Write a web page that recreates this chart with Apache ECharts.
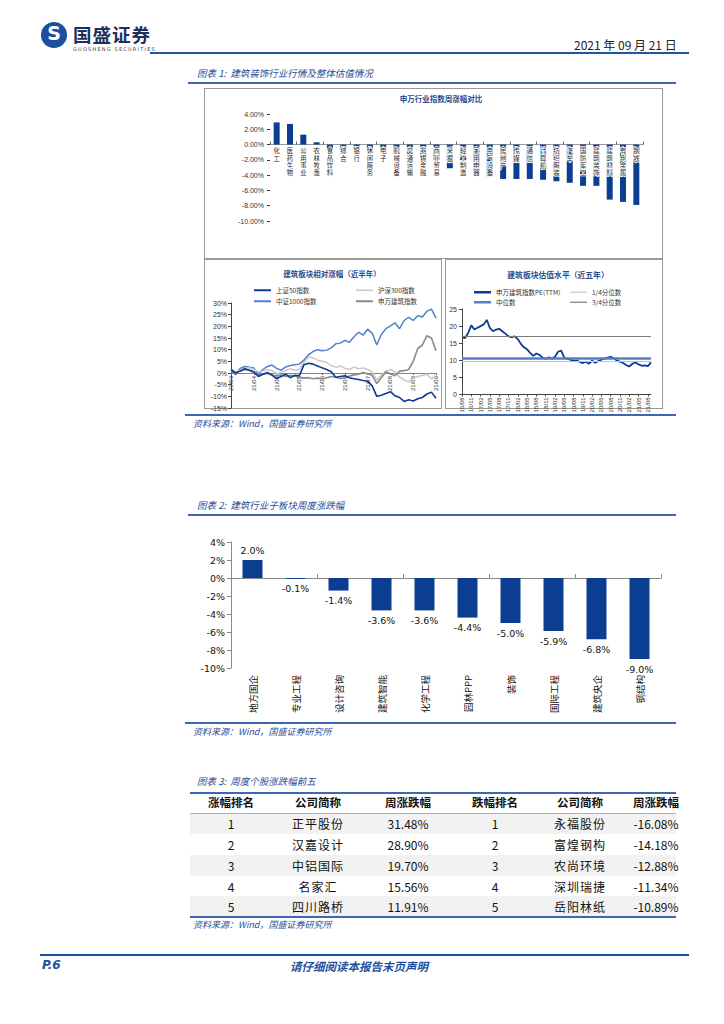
<!DOCTYPE html>
<html lang="zh-CN">
<head>
<meta charset="utf-8">
<title>建筑装饰行业周报 P.6</title>
<script src="https://cdn.jsdelivr.net/npm/echarts@6/dist/echarts.min.js"></script>
<style>
html,body{margin:0;padding:0;background:#fff;}
#page{position:relative;width:724px;height:1024px;overflow:hidden;font-family:"Noto Sans CJK SC","Noto Sans",sans-serif;}
.abs{position:absolute;white-space:nowrap;}
.cap{position:absolute;font-size:9.5px;font-style:italic;color:#2a4d96;white-space:nowrap;}
.rule{position:absolute;background:#3d68b0;}
.box{position:absolute;border:1px solid #9a9a9a;box-sizing:border-box;}
.cell{position:absolute;width:120px;text-align:center;font-size:12px;color:#111;line-height:21px;white-space:nowrap;}
.hd{font-weight:bold;font-size:11.5px;}
.stripe{position:absolute;left:190px;width:486px;height:21px;background:#f2f2f2;}
#chart{position:absolute;left:0;top:0;width:724px;height:1024px;}
</style>
</head>
<body>
<div id="page">
  <!-- header -->
  <div class="abs" style="left:41px;top:22px;width:26px;height:26px;border-radius:50%;background:#1d4f9f;"></div>
  <div class="abs" style="left:41px;top:22px;width:26px;height:26px;line-height:26px;text-align:center;color:#fff;font:bold 19px 'DejaVu Sans';">S</div>
  <div class="abs" style="left:73px;top:24px;font-size:18.5px;line-height:20px;font-weight:bold;color:#1c2f5e;letter-spacing:1px;">国盛证券</div>
  <div class="abs" style="left:73px;top:46px;font-size:5px;line-height:6px;color:#444;letter-spacing:1.2px;font-family:'DejaVu Sans';">GUOSHENG SECURITIES</div>
  <div class="abs" style="left:574px;top:36px;font-size:12px;color:#222;">2021 年 09 月 21 日</div>
  <div class="rule" style="left:150px;top:52px;width:539px;height:2px;background:#2453a0;"></div>

  <!-- figure 1 -->
  <div class="cap" style="left:197px;top:66px;">图表 1:&nbsp; 建筑装饰行业行情及整体估值情况</div>
  <div class="rule" style="left:188px;top:82px;width:488px;height:1.5px;"></div>
  <div class="box" style="left:204px;top:88px;width:459px;height:171px;"></div>
  <div class="box" style="left:204px;top:259px;width:238px;height:150px;"></div>
  <div class="box" style="left:445px;top:259px;width:218px;height:150px;"></div>
  <div class="rule" style="left:185px;top:414px;width:491px;height:2px;"></div>
  <div class="cap" style="left:193px;top:417px;font-size:9px;">资料来源：Wind，国盛证券研究所</div>

  <!-- figure 2 -->
  <div class="cap" style="left:197px;top:498px;">图表 2:&nbsp; 建筑行业子板块周度涨跌幅</div>
  <div class="rule" style="left:188px;top:514px;width:488px;height:1.5px;"></div>
  <div class="rule" style="left:185px;top:722px;width:491px;height:2px;"></div>
  <div class="cap" style="left:193px;top:725px;font-size:9px;">资料来源：Wind，国盛证券研究所</div>

  <!-- figure 3 -->
  <div class="cap" style="left:197px;top:774px;">图表 3:&nbsp; 周度个股涨跌幅前五</div>
  <div class="rule" style="left:190px;top:792px;width:486px;height:1.5px;"></div>
  <div id="table"></div>
  <div class="rule" style="left:190px;top:813px;width:486px;height:1px;background:#9bb3d8;"></div>
  <div class="rule" style="left:190px;top:916px;width:486px;height:1.5px;"></div>
  <div class="cap" style="left:193px;top:918px;font-size:9px;">资料来源：Wind，国盛证券研究所</div>

  <!-- footer -->
  <div class="rule" style="left:40px;top:954px;width:649px;height:2px;background:#1d4f9f;"></div>
  <div class="abs" style="left:42px;top:958px;font:italic bold 12px 'DejaVu Sans';color:#1d4f9f;">P.6</div>
  <div class="abs" style="left:290px;top:958px;font-size:11.5px;font-weight:bold;font-style:italic;color:#1d4f9f;">请仔细阅读本报告末页声明</div>

  <div id="chart"></div>
</div>
<script>
// ---------- data: 申万行业指数周涨幅对比 ----------
const industryNames = ['化工','医药生物','公用事业','农林牧渔','食品饮料','综合','银行','休闲服务','电子','机械设备','交通运输','非银金融','商业贸易','采掘','轻工制造','家用电器','电气设备','房地产','传媒','通信','计算机','纺织服装','汽车','国防军工','建筑装饰','建筑材料','有色金属','钢铁'];
const industryWeekly = [2.9,2.7,1.3,0.3,-0.7,-0.6,-0.6,-0.8,-0.9,-1.2,-1.5,-1.8,-2.0,-3.1,-3.2,-4.0,-4.2,-4.5,-4.5,-4.5,-4.6,-4.8,-5.0,-5.4,-5.4,-7.2,-7.5,-7.9];

// ---------- data: 建筑板块相对涨幅（近半年） ----------
const relDates = ['21/03/19','21/03/23','21/03/27','21/03/31','21/04/04','21/04/08','21/04/12','21/04/16','21/04/20','21/04/24','21/04/28','21/05/02','21/05/06','21/05/10','21/05/14','21/05/18','21/05/22','21/05/26','21/05/30','21/06/03','21/06/07','21/06/11','21/06/15','21/06/19','21/06/23','21/06/27','21/07/01','21/07/05','21/07/09','21/07/13','21/07/17','21/07/21','21/07/25','21/07/29','21/08/02','21/08/06','21/08/10','21/08/14','21/08/18','21/08/22','21/08/26','21/08/30','21/09/03','21/09/07','21/09/11','21/09/15'];
const sz50 = [1.5,0.0,0.8,1.8,1.2,0.5,-1.5,-0.5,0.2,-0.8,-2.5,-1.5,-0.5,-2.0,-1.0,-1.2,3.5,4.2,3.8,3.0,2.2,1.5,0.5,-1.8,-1.5,-1.2,-2.0,-2.5,-2.8,-3.2,-3.5,-5.5,-10.0,-9.5,-8.8,-8.0,-9.8,-10.5,-12.2,-11.5,-12.0,-11.0,-10.5,-9.0,-8.2,-10.8];
const hs300 = [1.5,0.5,1.2,2.0,2.2,1.6,0.5,0.8,1.5,1.0,-0.3,0.2,1.0,1.8,1.2,1.5,4.5,6.8,6.5,5.5,5.0,4.5,3.2,2.5,3.0,2.0,1.5,2.5,1.8,2.2,1.5,0.5,-3.0,-1.0,0.8,1.5,0.5,-1.8,-3.0,-3.8,-2.2,-1.5,-1.0,-0.5,-2.5,-1.0];
const zz1000 = [1.5,-0.8,2.0,2.8,2.5,2.2,-0.5,1.5,2.8,3.4,2.0,1.2,2.6,3.2,3.5,3.8,5.5,7.8,9.2,10.0,9.5,9.8,10.8,12.5,12.8,14.0,13.2,15.5,17.5,16.2,18.8,17.0,12.0,16.5,19.0,20.2,21.5,19.0,22.5,23.8,22.5,24.5,24.0,26.5,27.4,23.5];
const swBuild = [0.5,0.0,0.8,1.5,1.2,0.2,-0.8,-0.5,-0.2,-1.0,-1.2,-0.8,-1.5,-1.0,-1.3,-1.8,-2.2,-2.0,-2.5,-2.2,-2.6,-2.0,-1.5,-1.8,-2.4,-2.0,-1.3,-0.8,-0.5,0.2,-0.3,-1.0,-4.5,-2.0,0.5,-0.3,-1.2,0.8,1.0,1.5,5.0,10.5,12.0,16.0,15.0,9.5];

// ---------- data: 建筑板块估值水平（近五年） ----------
const peMonths = ['16/08','16/09','16/10','16/11','16/12','17/01','17/02','17/03','17/04','17/05','17/06','17/07','17/08','17/09','17/10','17/11','17/12','18/01','18/02','18/03','18/04','18/05','18/06','18/07','18/08','18/09','18/10','18/11','18/12','19/01','19/02','19/03','19/04','19/05','19/06','19/07','19/08','19/09','19/10','19/11','19/12','20/01','20/02','20/03','20/04','20/05','20/06','20/07','20/08','20/09','20/10','20/11','20/12','21/01','21/02','21/03','21/04','21/05','21/06','21/07','21/08','21/09'];
const pe = [16.8,16.5,18.0,20.2,19.0,19.5,20.0,20.5,21.8,19.5,18.5,19.0,19.2,18.5,17.8,17.0,16.8,17.0,16.2,14.8,13.8,13.2,12.2,11.3,12.0,11.6,10.8,10.4,10.9,10.5,11.0,12.5,12.8,10.8,10.4,10.2,9.8,10.0,9.5,9.2,9.6,9.0,9.9,9.3,9.8,10.2,10.5,10.8,11.0,10.6,9.9,9.6,9.2,8.6,8.2,9.0,9.4,8.8,8.4,8.5,8.3,9.4];
const peQ1 = 9.8, peMedian = 10.6, peQ3 = 17.0;

// ---------- data: 建筑行业子板块周度涨跌幅 ----------
const subSectors = ['地方国企','专业工程','设计咨询','建筑智能','化学工程','园林PPP','装饰','国际工程','建筑央企','钢结构'];
const subWeekly = [2.0,-0.1,-1.4,-3.6,-3.6,-4.4,-5.0,-5.9,-6.8,-9.0];

// ---------- data: 周度个股涨跌幅前五 ----------
const tableHeaders = ['涨幅排名','公司简称','周涨跌幅','跌幅排名','公司简称','周涨跌幅'];
const gainRank = ['1','2','3','4','5'];
const gainNames = ['正平股份','汉嘉设计','中铝国际','名家汇','四川路桥'];
const gainPct = ['31.48%','28.90%','19.70%','15.56%','11.91%'];
const lossRank = ['1','2','3','4','5'];
const lossNames = ['永福股份','富煌钢构','农尚环境','深圳瑞捷','岳阳林纸'];
const lossPct = ['-16.08%','-14.18%','-12.88%','-11.34%','-10.89%'];

// ---------- table ----------
(function(){
  const t = document.getElementById('table');
  const colX = [231,318,408,495,580,656];
  const rowY = [793,813,834,855,876,896];
  let html = '';
  [1,3,5].forEach(r => { html += '<div class="stripe" style="top:'+rowY[r]+'px"></div>'; });
  tableHeaders.forEach((h,i) => {
    html += '<div class="cell hd" style="left:'+(colX[i]-60)+'px;top:'+(rowY[0]-1)+'px">'+h+'</div>';
  });
  const cols = [gainRank,gainNames,gainPct,lossRank,lossNames,lossPct];
  for (let r=0;r<5;r++){
    cols.forEach((c,i)=>{
      const ls = (i===1||i===4) ? 'letter-spacing:1px;' : '';
      html += '<div class="cell" style="'+ls+'left:'+(colX[i]-60)+'px;top:'+rowY[r+1]+'px">'+c[r]+'</div>';
    });
  }
  t.innerHTML = html;
})();

// ---------- chart ----------
const chart = echarts.init(document.getElementById('chart'), null, {renderer:'svg'});
const NUM = 'DejaVu Sans';
const SM = 'Liberation Sans';
const blueDark = '#0b3d91';
const titleBlue = '#2b4c8c';

function smallLegend(name, left, top, h){
  return {data:[name], left:left, top:top, padding:0, itemGap:0, icon:'rect', itemWidth:17, itemHeight:h,
          selectedMode:false, textStyle:{fontSize:6.5, color:'#333', fontFamily:'Noto Sans CJK SC'}};
}

// grid geometry
const G0 = {left:270, top:114, width:373, height:107};   // industry bars, -10..4
const G1 = {left:231, top:303, width:205, height:105};   // relative returns, -15..30
const G2 = {left:462, top:309, width:189, height:85.5};  // PE, 0..25
const G3 = {left:231, top:542, width:430, height:126};   // sub-sectors, -10..4
// helper grid whose bottom edge sits on the 0% line (date labels at zero)
const G4 = {left:G1.left, top:G1.top, width:G1.width, height:G1.height*30/45};

const option = {
  animation:false,
  backgroundColor:'transparent',
  textStyle:{fontFamily:'Noto Sans CJK SC'},
  graphic:[
    {type:'text', x:441, y:98, style:{text:'申万行业指数周涨幅对比', fill:titleBlue, fontSize:7.5, fontWeight:'bold', fontFamily:'Noto Sans CJK SC', align:'center', verticalAlign:'middle', textAlign:'center', textVerticalAlign:'middle'}},
    {type:'text', x:332, y:273, style:{text:'建筑板块相对涨幅（近半年）', fill:titleBlue, fontSize:7.5, fontWeight:'bold', fontFamily:'Noto Sans CJK SC', align:'center', verticalAlign:'middle', textAlign:'center', textVerticalAlign:'middle'}},
    {type:'text', x:558, y:274, style:{text:'建筑板块估值水平（近五年）', fill:titleBlue, fontSize:7.8, fontWeight:'bold', fontFamily:'Noto Sans CJK SC', align:'center', verticalAlign:'middle', textAlign:'center', textVerticalAlign:'middle'}}
  ],
  legend:[
    smallLegend('上证50指数',254,287,2),
    smallLegend('沪深300指数',356,287,1.5),
    smallLegend('中证1000指数',254,298,2),
    smallLegend('申万建筑指数',356,298,2),
    smallLegend('申万建筑指数PE(TTM)',474,289,2.5),
    smallLegend('1/4分位数',570,289,1.2),
    smallLegend('中位数',474,299,2.5),
    smallLegend('3/4分位数',570,299,1.2)
  ],
  grid:[G0,G1,G2,G3,G4],
  xAxis:[
    // 0: industry zero line
    {gridIndex:0, type:'category', data:industryNames,
     axisLine:{onZero:true, lineStyle:{color:'#9a9a9a', width:1}},
     axisTick:{show:true, inside:true, interval:1, length:3, lineStyle:{color:'#666'}},
     axisLabel:{show:false}},
    // 1: relative-return zero line
    {gridIndex:1, type:'category', data:relDates, boundaryGap:false,
     axisLine:{onZero:true, lineStyle:{color:'#888'}},
     axisTick:{show:true, interval:4, length:2, lineStyle:{color:'#666'}},
     axisLabel:{show:false}},
    // 2: PE
    {gridIndex:2, type:'category', data:peMonths, boundaryGap:false,
     axisLine:{lineStyle:{color:'#444'}},
     axisTick:{show:true, interval:2, length:2, lineStyle:{color:'#444'}},
     axisLabel:{interval:2, rotate:90, fontSize:6, color:'#333', margin:3, fontFamily:SM}},
    // 3: sub-sector labels at bottom
    {gridIndex:3, type:'category', data:subSectors, position:'bottom',
     axisLine:{show:false, onZero:false}, axisTick:{show:false},
     axisLabel:{interval:0, rotate:90, fontSize:9.5, color:'#111', margin:7}},
    // 4: sub-sector zero line
    {gridIndex:3, type:'category', data:subSectors, position:'bottom',
     axisLine:{show:true, onZero:true, lineStyle:{color:'#8a8a8a'}},
     axisTick:{show:true, inside:true, length:4, lineStyle:{color:'#8a8a8a'}},
     axisLabel:{show:false}},
    // 5: date labels hanging from the zero line
    {gridIndex:4, type:'category', data:relDates, boundaryGap:false, position:'bottom',
     axisLine:{show:false}, axisTick:{show:false},
     axisLabel:{interval:4, rotate:90, fontSize:6, color:'#333', margin:3, fontFamily:SM, formatter:v=>v.slice(0,5)}}
  ],
  yAxis:[
    {gridIndex:0, type:'value', min:-10, max:4, interval:2,
     axisLine:{show:false}, axisTick:{show:true, length:3, lineStyle:{color:'#333'}},
     splitLine:{show:false},
     axisLabel:{fontSize:7, color:'#333', margin:6, fontFamily:SM, formatter:v=>v.toFixed(2)+'%'}},
    {gridIndex:1, type:'value', min:-15, max:30, interval:5,
     axisLine:{show:true, lineStyle:{color:'#444'}}, axisTick:{show:true, length:3, lineStyle:{color:'#444'}},
     splitLine:{show:false},
     axisLabel:{fontSize:7, color:'#333', margin:4, fontFamily:SM, formatter:'{value}%'}},
    {gridIndex:2, type:'value', min:0, max:25, interval:5,
     axisLine:{show:true, lineStyle:{color:'#444'}}, axisTick:{show:true, length:3, lineStyle:{color:'#444'}},
     splitLine:{show:false},
     axisLabel:{fontSize:7, color:'#333', margin:5, fontFamily:SM}},
    {gridIndex:3, type:'value', min:-10, max:4, interval:2,
     axisLine:{show:true, lineStyle:{color:'#8a8a8a'}}, axisTick:{show:true, length:4, lineStyle:{color:'#8a8a8a'}},
     splitLine:{show:false},
     axisLabel:{fontSize:9.5, color:'#111', margin:6, fontFamily:NUM, formatter:'{value}%'}},
    {gridIndex:4, type:'value', min:0, max:1, show:false}
  ],
  series:[
    {name:'申万行业周涨幅', type:'bar', xAxisIndex:0, yAxisIndex:0, data:industryWeekly, barWidth:6,
     itemStyle:{color:blueDark}},
    // industry names, one character per row, hanging from the 0% line (over the bars, with a white halo)
    {name:'行业名称', type:'custom', xAxisIndex:0, yAxisIndex:0, silent:true, z:5,
     data:industryNames.map(n => [n, 0]),
     renderItem:(params, api) => {
       const p = api.coord([api.value(0), 0]);
       const chars = industryNames[params.dataIndex].split('');
       return {type:'group', children: chars.map((c, k) => ({
         type:'text', x:p[0], y:p[1] + 3 + k * 7.3, z2:10,
         style:{text:c, fill:'#2a2a2a', stroke:'#ffffff', lineWidth:1.6,
                fontSize:6.3, fontFamily:'Noto Sans CJK SC',
                align:'center', verticalAlign:'top', textAlign:'center', textVerticalAlign:'top'}
       }))};
     }},

    {name:'中证1000指数', type:'line', xAxisIndex:1, yAxisIndex:1, data:zz1000, symbol:'none',
     lineStyle:{color:'#4f82c9', width:1.5}, itemStyle:{color:'#4f82c9'}},
    {name:'沪深300指数', type:'line', xAxisIndex:1, yAxisIndex:1, data:hs300, symbol:'none',
     lineStyle:{color:'#c8c8c8', width:1.5}, itemStyle:{color:'#c8c8c8'}},
    {name:'申万建筑指数', type:'line', xAxisIndex:1, yAxisIndex:1, data:swBuild, symbol:'none',
     lineStyle:{color:'#8a8a8a', width:1.6}, itemStyle:{color:'#8a8a8a'}},
    {name:'上证50指数', type:'line', xAxisIndex:1, yAxisIndex:1, data:sz50, symbol:'none',
     lineStyle:{color:'#0d3a94', width:1.6}, itemStyle:{color:'#0d3a94'}},

    {name:'3/4分位数', type:'line', xAxisIndex:2, yAxisIndex:2, data:[], symbol:'none',
     lineStyle:{color:'#7a7a7a', width:1}, itemStyle:{color:'#7a7a7a'}},
    {name:'1/4分位数', type:'line', xAxisIndex:2, yAxisIndex:2, data:[], symbol:'none',
     lineStyle:{color:'#c4c4c4', width:1}, itemStyle:{color:'#c4c4c4'}},
    {name:'中位数', type:'line', xAxisIndex:2, yAxisIndex:2, data:[], symbol:'none',
     lineStyle:{color:'#4f82c9', width:2.5}, itemStyle:{color:'#4f82c9'}},
    {name:'申万建筑指数PE(TTM)', type:'line', xAxisIndex:2, yAxisIndex:2, data:pe, symbol:'none',
     lineStyle:{color:'#0d3a94', width:1.8}, itemStyle:{color:'#0d3a94'},
     markLine:{silent:true, symbol:['none','none'], label:{show:false}, animation:false,
       data:[
         {yAxis:peQ3, lineStyle:{color:'#7a7a7a', width:1, type:'solid'}},
         {yAxis:peQ1, lineStyle:{color:'#c4c4c4', width:1, type:'solid'}},
         {yAxis:peMedian, lineStyle:{color:'#4f82c9', width:2.5, type:'solid'}}
       ]}},

    {name:'子板块周涨跌幅', type:'bar', xAxisIndex:3, yAxisIndex:3, barWidth:20,
     itemStyle:{color:blueDark},
     data:subWeekly.map(v=>({value:v, label:{position: v>=0 ? 'top' : 'bottom'}})),
     label:{show:true, distance:5, fontSize:9.5, color:'#111', fontFamily:NUM,
            formatter:p=>p.value.toFixed(1)+'%'}}
  ]
};
chart.setOption(option);
</script>
</body>
</html>
